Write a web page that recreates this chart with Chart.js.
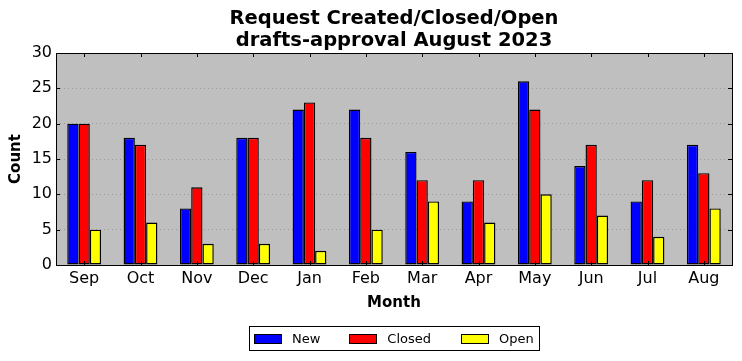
<!DOCTYPE html>
<html>
<head>
<meta charset="utf-8">
<script src="https://cdn.jsdelivr.net/npm/chart.js@4"></script>
<style>
  body { margin: 0; background: #fff; font-family: "DejaVu Sans", sans-serif; }
  #wrap { position: relative; width: 742px; height: 361px; }
  #legend {
    position: absolute; left: 249px; top: 326px; width: 289px; height: 23px;
    border: 1px solid #000; display: flex; align-items: center; font-size: 13px; color: #000;
  }
  #legend .item { display: flex; align-items: center; }
  #legend .sw { width: 26px; height: 8px; border: 1px solid #000; margin: 0 10px 0 4px; }
</style>
</head>
<body>
<div id="wrap">
  <canvas id="chart" width="742" height="361"></canvas>
  <div id="legend"></div>
</div>
<script>
// Datos
const meses = ["Sep", "Oct", "Nov", "Dec", "Jan", "Feb", "Mar", "Apr", "May", "Jun", "Jul", "Aug"];
const nuevos = [20, 18, 8, 18, 22, 22, 16, 9, 26, 14, 9, 17];
const cerrados = [20, 17, 11, 18, 23, 18, 12, 12, 22, 17, 12, 13];
const abiertos = [5, 6, 3, 3, 2, 5, 9, 6, 10, 7, 4, 8];
const yTicks = [0, 5, 10, 15, 20, 25, 30];
const titulo = ["Request Created/Closed/Open", "drafts-approval August 2023"];

const FONT = "DejaVu Sans";

// Fondo gris, marco y marcas hacia adentro
const marco = {
    id: 'marco',
    beforeDraw(chart) {
        const { ctx, chartArea: a } = chart;
        ctx.save();
        ctx.fillStyle = '#bfbfbf';
        ctx.fillRect(a.left, a.top, a.right - a.left, a.bottom - a.top);
        ctx.restore();
    },
    afterDraw(chart) {
        const { ctx, chartArea: a, scales } = chart;
        ctx.save();
        ctx.strokeStyle = '#000';
        ctx.lineWidth = 1;
        ctx.beginPath();
        yTicks.forEach(v => {
            const y = Math.round(scales.y.getPixelForValue(v)) + 0.5;
            ctx.moveTo(a.left, y); ctx.lineTo(a.left + 4, y);
            ctx.moveTo(a.right, y); ctx.lineTo(a.right - 4, y);
        });
        meses.forEach((m, i) => {
            const x = Math.round(scales.x.getPixelForValue(i)) + 0.5;
            ctx.moveTo(x, a.top); ctx.lineTo(x, a.top + 4);
            ctx.moveTo(x, a.bottom); ctx.lineTo(x, a.bottom - 4);
        });
        ctx.stroke();
        ctx.strokeRect(Math.round(a.left) + 0.5, Math.round(a.top) + 0.5,
            Math.round(a.right - a.left), Math.round(a.bottom - a.top));
        // título
        ctx.fillStyle = '#000';
        ctx.font = 'bold 19.5px "' + FONT + '"';
        ctx.textAlign = 'center';
        ctx.textBaseline = 'middle';
        const cx = (a.left + a.right) / 2;
        ctx.fillText(titulo[0], cx, 19);
        ctx.fillText(titulo[1], cx, 41);
        ctx.restore();
    }
};

const series = [
    { label: 'New', data: nuevos, color: '#0000ff' },
    { label: 'Closed', data: cerrados, color: '#ff0000' },
    { label: 'Open', data: abiertos, color: '#ffff00' }
];

new Chart(document.getElementById('chart'), {
    type: 'bar',
    data: {
        labels: meses,
        datasets: series.map(s => ({
            label: s.label,
            data: s.data,
            backgroundColor: s.color,
            borderColor: '#000',
            borderWidth: 1.4,
            borderSkipped: false,
            categoryPercentage: 0.6,
            barPercentage: 1
        }))
    },
    options: {
        responsive: false,
        animation: false,
        layout: { padding: { top: 53, right: 10, left: 0, bottom: 0 } },
        plugins: { legend: { display: false }, tooltip: { enabled: false }, title: { display: false } },
        scales: {
            x: {
                grid: { display: false, drawTicks: false },
                border: { display: false },
                ticks: { color: '#000', font: { family: FONT, size: 16 }, padding: 4, maxRotation: 0 },
                title: { display: true, text: 'Month', color: '#000', font: { family: FONT, size: 15, weight: 'bold' }, padding: { top: 0, bottom: 49 } },
                afterFit(scale) { scale.height = 96; }
            },
            y: {
                min: 0, max: 30,
                afterBuildTicks(scale) { scale.ticks = yTicks.map(v => ({ value: v })); },
                grid: { color: '#999999', drawTicks: false, lineWidth: 1 },
                border: { display: false, dash: [1, 3] },
                ticks: { color: '#000', font: { family: FONT, size: 16 }, padding: 4 },
                title: { display: true, text: 'Count', color: '#000', font: { family: FONT, size: 15, weight: 'bold' }, padding: { top: 7, bottom: 0 } },
                afterFit(scale) { scale.width = 56; }
            }
        }
    },
    plugins: [marco]
});

// Leyenda en HTML
const leyenda = document.getElementById('legend');
const margenes = ['25px', '26px', '0'];
series.forEach((s, i) => {
    const item = document.createElement('div');
    item.className = 'item';
    item.style.marginRight = margenes[i];
    item.innerHTML = '<span class="sw" style="background:' + s.color + '"></span><span>' + s.label + '</span>';
    leyenda.appendChild(item);
});
</script>
</body>
</html>
